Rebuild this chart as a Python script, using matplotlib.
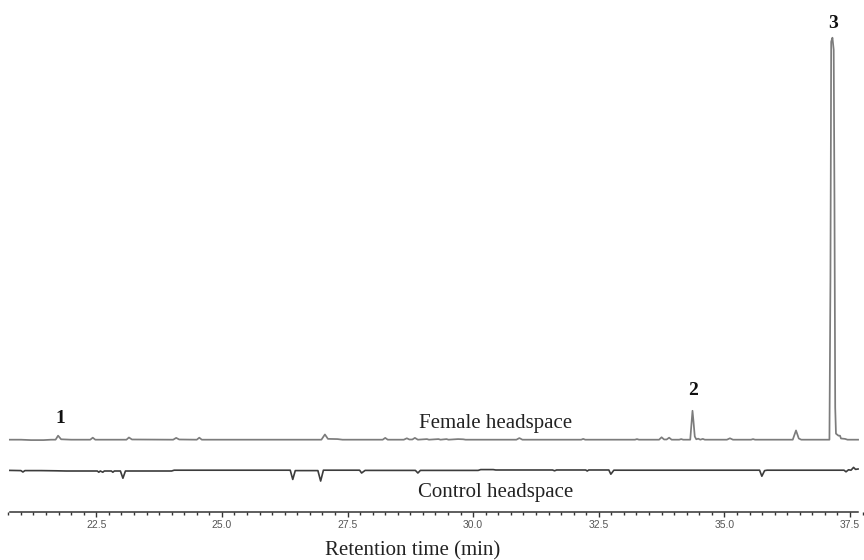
import matplotlib
matplotlib.use("Agg")
import matplotlib.pyplot as plt
from matplotlib.ticker import MultipleLocator, FixedLocator, FormatStrFormatter

# ---------------- data ----------------
# Female headspace trace: retention time (min) and intensity (% of peak 3)
female_t = [20.78, 21.00, 21.20, 21.45, 21.60, 21.69, 21.74, 21.80, 22.00, 22.38,
            22.43, 22.48, 23.10, 23.15, 23.21, 24.03, 24.09, 24.15, 24.50, 24.55,
            24.60, 26.98, 27.05, 27.11, 27.30, 27.40, 28.20, 28.25, 28.30, 28.62,
            28.68, 28.73, 28.79, 28.84, 28.90, 29.08, 29.12, 29.31, 29.35, 29.47,
            29.51, 29.70, 29.80, 29.85, 30.86, 30.92, 30.98, 32.15, 32.19, 32.23,
            33.22, 33.26, 33.30, 33.70, 33.75, 33.80, 33.85, 33.90, 33.95, 34.10,
            34.14, 34.18, 34.32, 34.345, 34.365, 34.385, 34.41, 34.44, 34.48, 34.52,
            34.57, 34.61, 35.05, 35.11, 35.17, 35.53, 35.57, 35.61, 36.36, 36.425,
            36.48, 36.53, 37.09, 37.11, 37.125, 37.15, 37.175, 37.19, 37.205, 37.22,
            37.27, 37.30, 37.32, 37.40, 37.45, 37.66]
female_y = [0.0, 0.0, -0.1, -0.1, 0.0, 0.0, 1.0, 0.1, 0.0, 0.0,
            0.5, 0.0, 0.0, 0.55, 0.05, 0.0, 0.45, 0.05, 0.0, 0.5,
            0.0, 0.0, 1.3, 0.2, 0.15, 0.0, 0.0, 0.45, 0.0, 0.0,
            0.35, 0.05, 0.05, 0.45, 0.0, 0.15, 0.0, 0.15, 0.0, 0.15,
            0.0, 0.15, 0.1, 0.0, 0.0, 0.4, 0.0, 0.0, 0.2, 0.0,
            0.0, 0.15, 0.0, 0.0, 0.6, 0.05, 0.05, 0.5, 0.0, 0.0,
            0.15, 0.0, 0.0, 4.0, 7.2, 4.5, 0.8, 0.1, 0.25, 0.0,
            0.2, 0.0, 0.0, 0.35, 0.0, 0.0, 0.15, 0.0, 0.0, 2.3,
            0.3, 0.0, 0.0, 40.0, 99.0, 100.0, 97.0, 60.0, 8.0, 1.5,
            1.0, 1.0, 0.3, 0.2, 0.0, 0.0]

# Control headspace trace
control_t = [20.78, 21.00, 21.04, 21.08, 21.40, 21.70, 21.90, 22.52, 22.55, 22.58,
             22.63, 22.66, 22.80, 22.83, 22.86, 22.98, 23.03, 23.08, 24.00, 24.05,
             26.36, 26.41, 26.46, 26.91, 26.965, 27.02, 27.74, 27.78, 27.85, 28.85,
             28.90, 28.95, 30.10, 30.15, 30.40, 30.45, 31.58, 31.62, 31.66, 32.24,
             32.27, 32.30, 32.70, 32.74, 32.80, 35.70, 35.745, 35.80, 35.85, 37.38,
             37.42, 37.47, 37.52, 37.57, 37.61, 37.66]
control_y = [0.15, 0.1, -0.25, 0.1, 0.1, 0.05, 0.0, 0.0, -0.3, 0.0,
             -0.3, 0.0, 0.0, -0.3, 0.0, 0.0, -1.8, 0.0, 0.0, 0.2,
             0.2, -2.1, 0.1, 0.1, -2.5, 0.2, 0.2, -0.5, 0.15, 0.15,
             -0.5, 0.15, 0.15, 0.35, 0.35, 0.25, 0.25, 0.05, 0.25, 0.25,
             0.0, 0.25, 0.25, -0.8, 0.2, 0.2, -1.3, 0.1, 0.2, 0.2,
             -0.2, 0.3, 0.2, 0.9, 0.4, 0.5]

tick_labels = ["22.5", "25.0", "27.5", "30.0", "32.5", "35.0", "37.5"]
tick_values = [22.5, 25.0, 27.5, 30.0, 32.5, 35.0, 37.5]

peak_labels = ["1", "2", "3"]
peak_label_t = [21.78, 34.37, 37.165]
peak_label_y = [4.15, 11.1, 102.4]

trace_names = ["Female headspace", "Control headspace"]
xlabel = "Retention time (min)"

# ---------------- layout ----------------
control_offset = -7.79
axis_level = -17.99

fig = plt.figure(figsize=(8.64, 5.6), dpi=100)
ax = fig.add_axes([0, 0, 1, 1])
ax.set_xlim(20.584, 37.778)
ax.set_ylim(-29.93, 109.38)

ax.plot(female_t, female_y, color="#7c7c7c", lw=1.25, solid_joinstyle="round")
ax.plot(control_t, [v + control_offset for v in control_y], color="#3c3c3c", lw=1.2,
        solid_joinstyle="round")

serif = ["Liberation Serif", "DejaVu Serif"]
for lab, t, y in zip(peak_labels, peak_label_t, peak_label_y):
    ax.text(t, y, lab, ha="center", va="baseline", fontsize=14, fontweight="bold",
            family=serif, color="#111111")

ax.text(30.455, 2.99, trace_names[0], ha="center", va="baseline", fontsize=15,
        family=serif, color="#222222")
ax.text(30.445, -14.33, trace_names[1], ha="center", va="baseline", fontsize=15,
        family=serif, color="#222222")
ax.text(28.793, -28.93, xlabel, ha="center", va="baseline", fontsize=15,
        family=serif, color="#222222")

# x axis drawn as a spine within the plot
for s in ["top", "right", "left"]:
    ax.spines[s].set_visible(False)
ax.spines["bottom"].set_position(("data", axis_level))
ax.spines["bottom"].set_bounds(20.78, 37.66)
ax.spines["bottom"].set_color("#333333")
ax.spines["bottom"].set_linewidth(1.1)
ax.patch.set_visible(False)

ax.xaxis.set_major_locator(FixedLocator(tick_values))
ax.set_xticklabels(tick_labels)
ax.xaxis.set_minor_locator(MultipleLocator(0.25))
ax.tick_params(axis="x", which="major", length=3.6, width=1.0, color="#333333",
               pad=2.2, labelsize=7.5, labelcolor="#555555")
ax.tick_params(axis="x", which="minor", length=2.5, width=1.0, color="#333333")
for lbl in ax.get_xticklabels():
    lbl.set_family(["Liberation Sans", "DejaVu Sans"])
ax.set_yticks([])

fig.savefig("out.png", dpi=100)
